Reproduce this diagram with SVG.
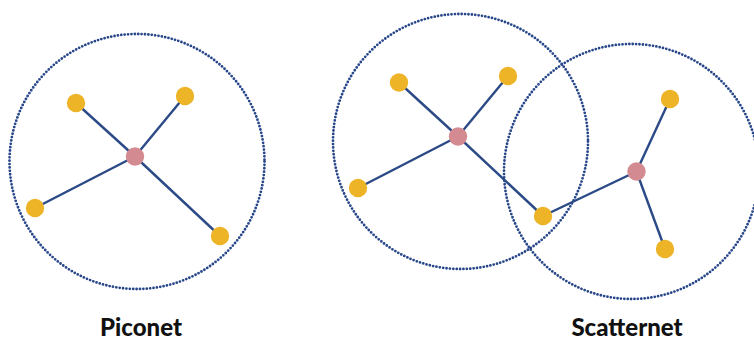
<svg xmlns="http://www.w3.org/2000/svg" width="754" height="340" viewBox="0 0 754 340">
<style>
.range{fill:none;stroke:#28478a;stroke-width:2.8;stroke-dasharray:0 3.4;stroke-linecap:round}
.link{stroke:#2b4a86;stroke-width:2.4}
.slave{fill:#eeb428}
.master{fill:#d38a90}
.lbl{font-family:Lato,"Open Sans",sans-serif;font-weight:900;font-size:24px;fill:#111;text-anchor:middle}
</style>
<rect width="754" height="340" fill="#fff"/>
<g id="ranges">
<circle class="range" cx="137" cy="161.5" r="127.5"/>
<circle class="range" cx="460.5" cy="141.5" r="127.5"/>
<circle class="range" cx="631.5" cy="171.5" r="127.5"/>
</g>
<g id="connectors">
<line class="link" x1="135" y1="156.5" x2="76" y2="103"/>
<line class="link" x1="135" y1="156.5" x2="185" y2="96"/>
<line class="link" x1="135" y1="156.5" x2="35" y2="208"/>
<line class="link" x1="135" y1="156.5" x2="220" y2="236"/>
<line class="link" x1="458" y1="136.5" x2="399" y2="82.5"/>
<line class="link" x1="458" y1="136.5" x2="508" y2="76"/>
<line class="link" x1="458" y1="136.5" x2="358" y2="188"/>
<line class="link" x1="458" y1="136.5" x2="543" y2="216"/>
<line class="link" x1="636.5" y1="171.5" x2="543" y2="216"/>
<line class="link" x1="636.5" y1="171.5" x2="670" y2="99"/>
<line class="link" x1="636.5" y1="171.5" x2="665" y2="249"/>
</g>
<g id="p-master"><circle class="master" cx="135" cy="156.5" r="9.2"/></g>
<g id="p-s1"><circle class="slave" cx="76" cy="103" r="9.2"/></g>
<g id="p-s2"><circle class="slave" cx="185" cy="96" r="9.2"/></g>
<g id="p-s3"><circle class="slave" cx="35" cy="208" r="9.2"/></g>
<g id="p-s4"><circle class="slave" cx="220" cy="236" r="9.2"/></g>
<g id="s-master1"><circle class="master" cx="458" cy="136.5" r="9.2"/></g>
<g id="s-s1"><circle class="slave" cx="399" cy="82.5" r="9.2"/></g>
<g id="s-s2"><circle class="slave" cx="508" cy="76" r="9.2"/></g>
<g id="s-s3"><circle class="slave" cx="358" cy="188" r="9.2"/></g>
<g id="s-bridge"><circle class="slave" cx="543" cy="216" r="9.2"/></g>
<g id="s-master2"><circle class="master" cx="636.5" cy="171.5" r="9.2"/></g>
<g id="s-s5"><circle class="slave" cx="670" cy="99" r="9.2"/></g>
<g id="s-s6"><circle class="slave" cx="665" cy="249" r="9.2"/></g>
<g id="labels">
<text class="lbl" x="141" y="336">Piconet</text>
<text class="lbl" x="627" y="336">Scatternet</text>
</g>
</svg>
